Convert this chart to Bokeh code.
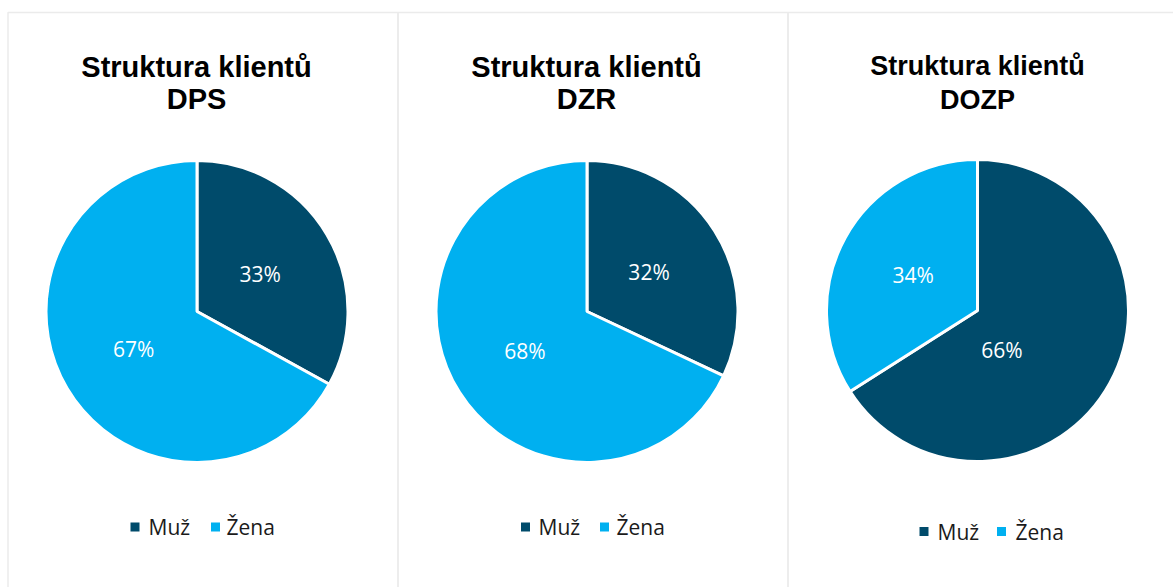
import math
from bokeh.plotting import figure
from bokeh.models import Range1d, ColumnDataSource
from bokeh.core.properties import value
from bokeh.embed import file_html
from bokeh.resources import INLINE

# ---------------- data ----------------
chart_names = ["DPS", "DZR", "DOZP"]
categories = ["Muž", "Žena"]
dps_values = [33, 67]
dzr_values = [32, 68]
dozp_values = [66, 34]
title_prefix = "Struktura klientů"

# ---------------- layout / style ----------------
W, H = 1173, 587
COL_DARK = "#004b6b"
COL_LIGHT = "#00b0f0"
colors = {"Muž": COL_DARK, "Žena": COL_LIGHT}
BORDER = "#ebebeb"
R = 151
panels = [
    # pie centre, title size, title baselines, legend y, legend offsets(sq1, txt1, sq2, txt2)
    dict(cx=196.5, cy=276, tx=196, tsize="29px", t1=520.5, t2=489, ly=60.5, lo=(-62, -48.5, 18.5, 29.5)),
    dict(cx=586.5, cy=276, tx=586, tsize="29px", t1=520.5, t2=489, ly=60.5, lo=(-61.5, -48.5, 17.5, 29.5)),
    dict(cx=977.0, cy=277, tx=977, tsize="27px", t1=522, t2=488, ly=56, lo=(-53.5, -40, 24, 38)),
]
panel_left = [7.5, 397.5, 787.5]
panel_right = [397.5, 787.5, 1300]
panel_top = 575
label_r = 0.49
# per-slice label override (panel index, slice index) -> (distance px, angle deg)
label_override = {(2, 0): (46, -58)}

p = figure(width=W, height=H, x_range=Range1d(0, W), y_range=Range1d(0, H),
           output_backend="svg", toolbar_location=None,
           x_axis_location=None, y_axis_location=None, min_border=0)
p.outline_line_color = None
p.xgrid.visible = False
p.ygrid.visible = False
p.background_fill_color = "white"
p.border_fill_color = "white"

# panel frames
p.quad(left=panel_left, right=panel_right, top=[panel_top] * 3, bottom=[-20] * 3,
       fill_color=None, line_color=BORDER, line_width=1.5)

all_values = [dps_values, dzr_values, dozp_values]
for i, (name, vals) in enumerate(zip(chart_names, all_values)):
    L = panels[i]
    total = float(sum(vals))
    starts, ends, cols, lx, ly, ltxt = [], [], [], [], [], []
    cum = 0.0
    for j, (cat, v) in enumerate(zip(categories, vals)):
        a0 = math.pi / 2 - 2 * math.pi * cum / total
        cum += v
        a1 = math.pi / 2 - 2 * math.pi * cum / total
        starts.append(a0)
        ends.append(a1)
        cols.append(colors[cat])
        if (i, j) in label_override:
            d, ang = label_override[(i, j)]
            ang = math.radians(ang)
        else:
            d = label_r * 150
            ang = (a0 + a1) / 2
        lx.append(L["cx"] + d * math.cos(ang))
        ly.append(L["cy"] + d * math.sin(ang))
        ltxt.append(f"{round(100 * v / total)}%")
    src = ColumnDataSource(dict(x=[L["cx"]] * len(vals), y=[L["cy"]] * len(vals),
                                start=starts, end=ends, color=cols))
    p.wedge(x="x", y="y", radius=R, start_angle="start", end_angle="end",
            direction="clock", fill_color="color", line_color="white", line_width=3,
            source=src)
    p.text(x=lx, y=ly, text=ltxt, text_color="white", text_align="center",
           text_baseline="middle", text_font=value("Open Sans"), text_font_size="21px")
    # title
    p.text(x=[L["tx"], L["tx"]], y=[L["t1"], L["t2"]], text=[title_prefix, name],
           text_color="black", text_align="center", text_baseline="alphabetic",
           text_font=value("Liberation Sans"), text_font_style="bold",
           text_font_size=L["tsize"])
    # legend
    s1, t1, s2, t2 = L["lo"]
    p.rect(x=[L["cx"] + s1, L["cx"] + s2], y=[L["ly"]] * 2, width=9, height=9,
           fill_color=[colors[c] for c in categories], line_color=None)
    p.text(x=[L["cx"] + t1, L["cx"] + t2], y=[L["ly"]] * 2, text=categories,
           text_color="#1a1a1a", text_align="left", text_baseline="middle",
           text_font=value("Open Sans"), text_font_size="21px")

open("out.html", "w").write(file_html(p, INLINE))
